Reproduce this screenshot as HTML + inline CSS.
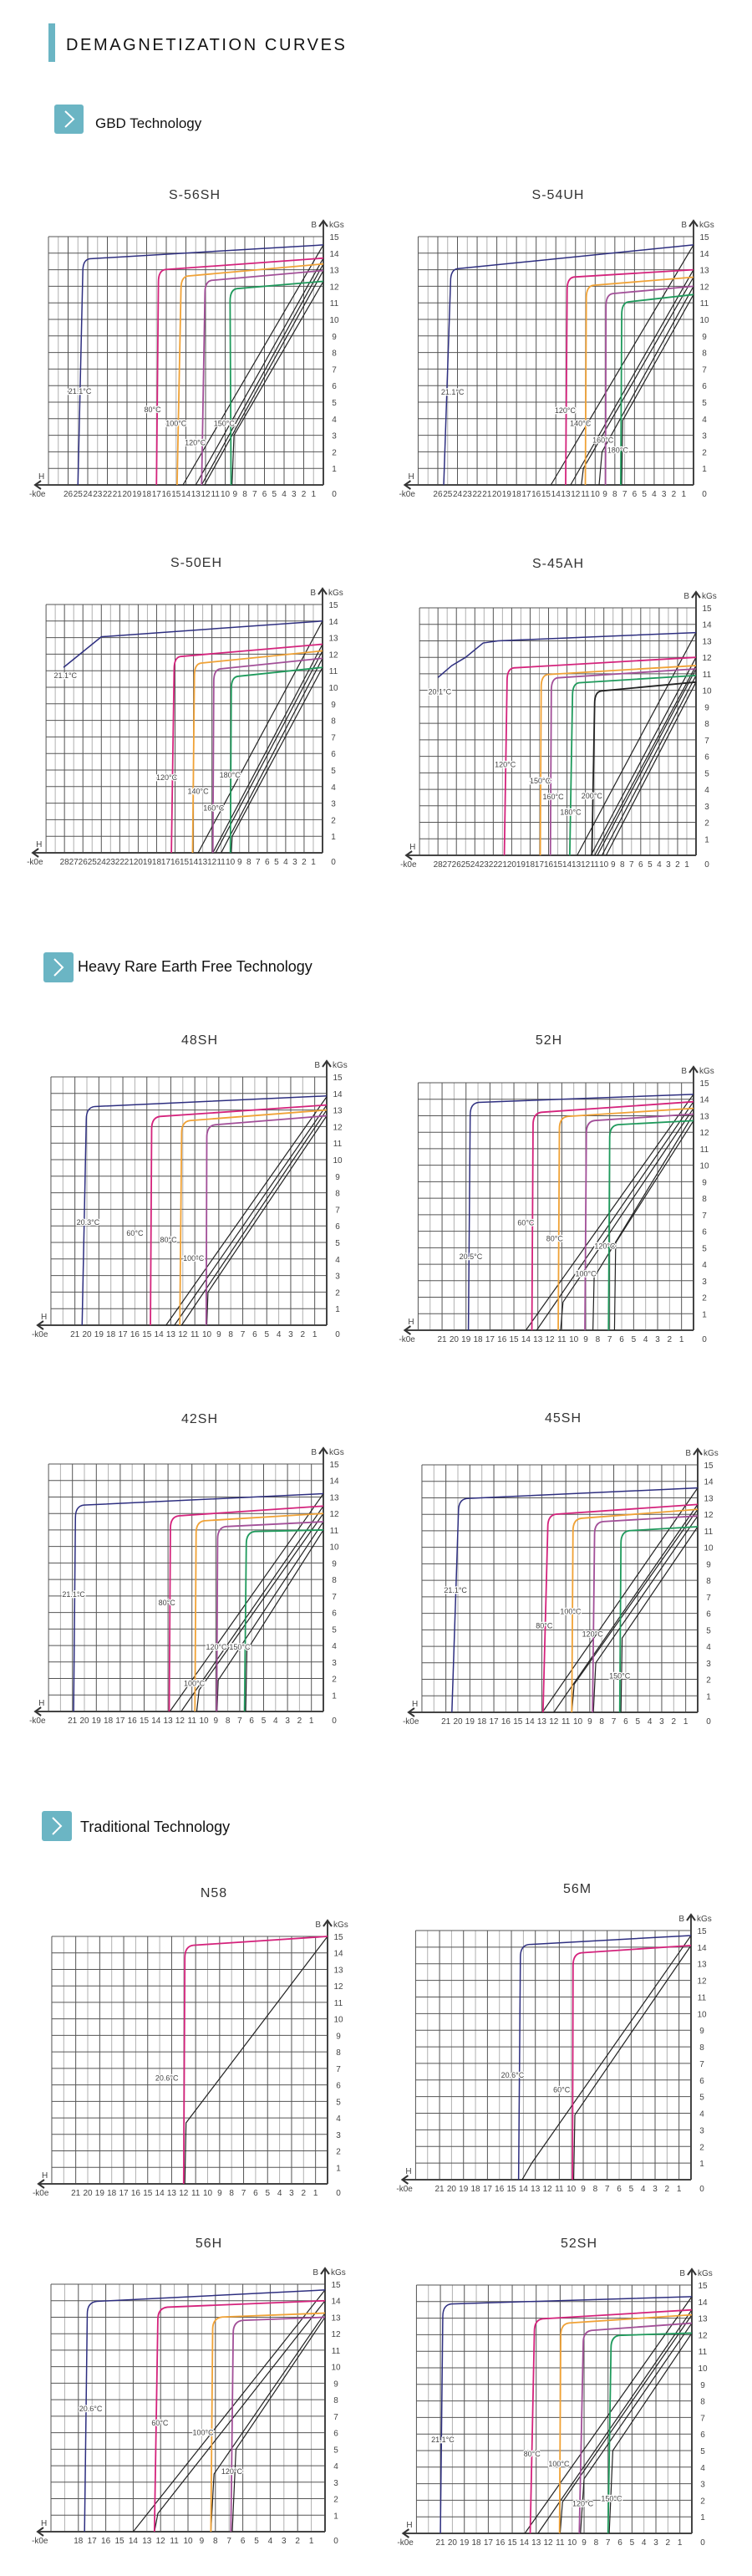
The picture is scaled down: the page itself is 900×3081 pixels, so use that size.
<!DOCTYPE html>
<html><head><meta charset="utf-8"><title>Demagnetization Curves</title>
<style>
html,body{margin:0;padding:0;background:#fff;}
svg{display:block;font-family:"Liberation Sans",sans-serif;}
</style></head>
<body>
<svg id="chart-root" xmlns="http://www.w3.org/2000/svg" width="900" height="3081" viewBox="0 0 900 3081">
  <rect x="58" y="28" width="8" height="46" fill="#6bb5c4"/>
  <text x="79" y="60" font-size="20" letter-spacing="2.6" fill="#111">DEMAGNETIZATION CURVES</text>

  <g>
    <rect x="65" y="125" width="35" height="35" rx="3" fill="#6bb5c4"/>
    <polyline points="78,133 88,142.5 78,152" fill="none" stroke="#fff" stroke-width="2"/>
    <text x="114" y="153" font-size="17" fill="#111">GBD Technology</text>
  </g>
  <g>
    <rect x="52" y="1139" width="36" height="36" rx="3" fill="#6bb5c4"/>
    <polyline points="65,1147 75,1157 65,1167" fill="none" stroke="#fff" stroke-width="2"/>
    <text x="93" y="1162" font-size="18" fill="#111">Heavy Rare Earth Free Technology</text>
  </g>
  <g>
    <rect x="50" y="2166" width="36" height="36" rx="3" fill="#6bb5c4"/>
    <polyline points="63,2174 73,2184 63,2194" fill="none" stroke="#fff" stroke-width="2"/>
    <text x="96" y="2191" font-size="18" fill="#111">Traditional Technology</text>
  </g>
</svg>
<script>
// ---------- data (H in kOe, B in kGs) ----------
// colored curves: [Hc at B=0, H at knee, B at knee, Br at H=0]
const curves_S56SH = [[25.0,24.5,13.6,14.5],[17.0,16.8,12.95,13.7],[14.9,14.5,12.56,13.35],[12.4,12.06,12.3,12.95],[9.4,9.5,11.8,12.3]];
const colors_S56SH = ['navy','mag','org','pur','grn'];
// recoil/load lines: [H at B=0, H at kink, B at kink (0 = straight), Br]
const recoil_S56SH = [[14.3,14.3,0,14.5],[13.0,13.0,0,13.7],[12.4,12.4,0,13.35],[12.1,12.1,0,12.95],[9.3,9.1,3.0,12.3]];
const labels_S56SH = [['21.1°C',24.8,5.65],['80°C',17.4,4.55],['100°C',15.0,3.7],['120°C',13.05,2.55],['150°C',10.1,3.7]];

const curves_S54UH = [[25.4,24.7,13.0,14.5],[13.0,12.85,12.5,13.0],[11.0,10.9,12.0,12.55],[8.95,8.9,11.5,12.0],[7.4,7.3,11.0,11.5]];
const colors_S54UH = ['navy','mag','org','pur','grn'];
const recoil_S54UH = [[14.5,14.5,0,14.5],[12.5,12.5,0,13.0],[11.4,11.2,1.0,12.55],[9.6,9.3,2.0,12.0],[7.3,7.2,3.9,11.5]];
const labels_S54UH = [['21.1°C',24.5,5.6],['120°C',13.05,4.5],['140°C',11.5,3.7],['160°C',9.2,2.7],['180°C',7.7,2.1]];

const navyPts_S50EH = [[28.1,11.2],[24.0,13.05],[0,14.0]];
const curves_S50EH = [[16.4,16.1,11.8,12.6],[14.1,13.9,11.4,12.2],[11.9,11.8,11.05,11.75],[10.0,9.9,10.6,11.2]];
const colors_S50EH = ['mag','org','pur','grn'];
const recoil_S50EH = [[13.5,13.5,0,14.0],[11.9,11.9,0,12.6],[11.6,11.6,0,12.2],[11.0,11.0,0,11.75],[9.9,9.8,1.0,11.2]];
const labels_S50EH = [['21.1°C',27.9,10.7],['120°C',16.9,4.55],['140°C',13.5,3.7],['160°C',11.8,2.7],['180°C',10.05,4.7]];

const navyPts_S45AH = [[28.0,10.78],[26.5,11.5],[25.0,12.0],[23.1,12.87],[21.5,13.0],[0,13.5]];
const curves_S45AH = [[20.8,20.5,11.3,12.0],[16.9,16.8,10.9,11.5],[15.8,15.7,10.7,11.3],[13.7,13.4,10.4,10.9],[11.3,11.0,9.9,10.5]];
const colors_S45AH = ['mag','org','pur','grn','blk'];
const recoil_S45AH = [[12.9,12.9,0,13.5],[11.4,11.4,0,12.0],[11.0,11.0,0,11.5],[10.7,10.7,0,11.3],[10.2,10.2,0,10.9],[9.75,9.75,0,10.5]];
const labels_S45AH = [['20.1°C',27.8,9.9],['120°C',20.7,5.5],['150°C',16.9,4.5],['160°C',15.5,3.55],['180°C',13.6,2.6],['200°C',11.3,3.6]];

const curves_48SH = [[20.4,20.05,13.15,13.85],[14.7,14.6,12.55,13.3],[12.25,12.1,12.3,13.0],[10.05,10.0,12.05,12.65]];
const colors_48SH = ['navy','mag','org','pur'];
const recoil_48SH = [[13.4,13.4,0,13.8],[12.7,12.7,0,13.3],[12.1,12.1,0,13.0],[10.0,9.9,2.0,12.65]];
const labels_48SH = [['20.3°C',19.9,6.2],['60°C',16.0,5.55],['80°C',13.2,5.15],['100°C',11.1,4.05]];

const curves_52H = [[18.8,18.65,13.75,14.3],[13.5,13.4,13.15,13.85],[11.3,11.2,12.9,13.45],[9.07,8.95,12.65,13.1],[7.1,7.0,12.4,12.7]];
const colors_52H = ['navy','mag','org','pur','grn'];
const recoil_52H = [[14.0,14.0,0,14.3],[13.1,13.1,0,13.85],[11.1,10.9,1.7,13.45],[8.4,8.3,3.2,13.1],[6.6,6.5,5.3,12.7]];
const labels_52H = [['20.5°C',18.6,4.45],['60°C',14.0,6.5],['80°C',11.6,5.55],['100°C',9.0,3.43],['120°C',7.4,5.1]];

const curves_42SH = [[20.9,20.75,12.45,13.2],[12.9,12.8,11.8,12.45],[10.75,10.65,11.5,12.0],[8.93,8.85,11.15,11.5],[6.6,6.45,10.85,11.0]];
const colors_42SH = ['navy','mag','org','pur','grn'];
const recoil_42SH = [[12.85,12.85,0,13.2],[11.9,11.9,0,12.45],[10.6,10.4,1.3,12.0],[8.9,8.8,1.9,11.5],[6.5,6.4,3.7,11.0]];
const labels_42SH = [['21.1°C',20.9,7.1],['80°C',13.1,6.6],['100°C',10.8,1.7],['120°C',8.95,3.9],['150°C',7.0,3.9]];

const curves_45SH = [[20.5,19.95,12.9,13.6],[12.9,12.5,11.95,12.6],[10.5,10.4,11.7,12.3],[8.77,8.6,11.5,11.9],[6.5,6.4,10.95,11.25]];
const colors_45SH = ['navy','mag','org','pur','grn'];
const recoil_45SH = [[12.95,12.95,0,13.6],[12.0,12.0,0,12.6],[10.5,10.3,1.7,12.3],[8.7,8.5,3.0,11.9],[6.4,6.3,4.5,11.25]];
const labels_45SH = [['21.1°C',20.2,7.4],['80°C',12.8,5.25],['100°C',10.6,6.1],['120°C',8.77,4.75],['150°C',6.5,2.2]];

const curves_N58 = [[12.0,11.9,14.4,15.0]];
const colors_N58 = ['mag'];
const recoil_N58 = [[11.9,11.8,3.7,15.0]];
const labels_N58 = [['20.6°C',13.4,6.4]];

const curves_56M = [[14.4,14.25,14.1,14.7],[9.9,9.85,13.6,14.1]];
const colors_56M = ['navy','mag'];
const recoil_56M = [[14.1,13.3,1.0,14.7],[9.8,9.7,3.9,14.1]];
const labels_56M = [['20.6°C',14.9,6.3],['60°C',10.8,5.4]];

const curves_56H = [[17.55,17.35,13.9,14.65],[12.45,12.2,13.55,14.0],[8.33,8.2,12.95,13.25],[6.87,6.7,12.75,13.0]];
const colors_56H = ['navy','mag','org','pur'];
const recoil_56H = [[14.0,14.0,0,14.65],[12.45,12.2,1.1,14.0],[8.33,8.1,3.5,13.25],[6.77,6.5,5.0,13.0]];
const labels_56H = [['20.6°C',17.1,7.45],['60°C',12.05,6.6],['100°C',8.9,6.0],['120°C',6.8,3.65]];

const curves_52SH = [[21.0,20.8,13.8,14.3],[13.5,13.15,12.9,13.5],[11.05,10.95,12.65,13.2],[9.4,9.07,12.2,12.7],[7.0,6.75,11.9,12.1]];
const colors_52SH = ['navy','mag','org','pur','grn'];
const recoil_52SH = [[13.95,13.95,0,14.3],[12.85,12.85,0,13.5],[11.0,10.8,1.9,13.2],[9.3,9.0,3.3,12.7],[6.9,6.6,5.0,12.1]];
const labels_52SH = [['21.1°C',20.8,5.65],['80°C',13.35,4.8],['100°C',11.1,4.2],['120°C',9.1,1.8],['150°C',6.7,2.1]];

const chartNames = ['S-56SH','S-54UH','S-50EH','S-45AH','48SH','52H','42SH','45SH','N58','56M','56H','52SH'];
const xTickMax = [26,26,28,28,21,21,21,21,21,21,18,21];
const yTicks = [1,2,3,4,5,6,7,8,9,10,11,12,13,14,15];

// ---------- layout ----------
const layout = [
 {axis:387,top:283,bottom:580,k:11.75,cols:28,tx:233,ty:238},
 {axis:830,top:283,bottom:580,k:11.77,cols:28,tx:668,ty:238},
 {axis:386,top:723,bottom:1020,k:11.03,cols:30,tx:235,ty:678},
 {axis:833,top:727,bottom:1023,k:11.03,cols:30,tx:668,ty:679},
 {axis:391,top:1288,bottom:1585,k:14.35,cols:23,tx:239,ty:1249},
 {axis:830,top:1295,bottom:1591,k:14.33,cols:23,tx:657,ty:1249},
 {axis:387,top:1751,bottom:2047,k:14.3,cols:23,tx:239,ty:1702},
 {axis:835,top:1752,bottom:2048,k:14.35,cols:23,tx:674,ty:1701},
 {axis:392,top:2316,bottom:2612,k:14.35,cols:23,tx:256,ty:2269},
 {axis:827,top:2309,bottom:2607,k:14.33,cols:23,tx:691,ty:2264},
 {axis:389,top:2732,bottom:3028,k:16.4,cols:20,tx:250,ty:2688},
 {axis:828,top:2733,bottom:3030,k:14.33,cols:23,tx:693,ty:2688}
];
const palette = {navy:'#2e2f80',mag:'#d4237c',org:'#f0a236',pur:'#a24f98',grn:'#1f9a5c',blk:'#222'};

const NS = 'http://www.w3.org/2000/svg';
const root = document.getElementById('chart-root');
function mk(tag, attrs, parent){
  const e = document.createElementNS(NS, tag);
  for (const k in attrs) e.setAttribute(k, attrs[k]);
  parent.appendChild(e);
  return e;
}

function drawChart(i, curves, colors, recoil, labels, navyPts){
  const c = layout[i];
  const slug = chartNames[i].toLowerCase().replace(/[^a-z0-9]+/g,'-');
  const g = mk('g', {}, root);
  
  
  const x = h => c.axis - h * c.k;
  const y = b => c.bottom - b * (c.bottom - c.top) / 15;
  const left = x(c.cols);

  const title = mk('text', {x:c.tx, y:c.ty, 'font-size':16, 'text-anchor':'middle', fill:'#333', 'letter-spacing':1}, g);
  title.textContent = chartNames[i];
  
  

  for (let j = 0; j < c.cols; j++) {
    const v = mk('line', {x1:x(c.cols - j), x2:x(c.cols - j), y1:c.top, y2:c.bottom, stroke:(j % 2 ? '#b0b0b0' : '#555'), 'stroke-width':1}, g);
    
    
  }
  for (let b = 1; b <= 15; b++) {
    const hl = mk('line', {x1:left, x2:c.axis, y1:y(b), y2:y(b), stroke:'#555', 'stroke-width':1}, g);
    
    
  }

  const ya = mk('line', {x1:c.axis, x2:c.axis, y1:c.bottom, y2:c.top - 19, stroke:'#444', 'stroke-width':2}, g);
  
  
  const yarr = mk('polyline', {points:`${c.axis-5},${c.top-12} ${c.axis},${c.top-19} ${c.axis+5},${c.top-12}`, fill:'none', stroke:'#333', 'stroke-width':2}, g);
  
  
  const bl = mk('text', {x:c.axis-8, y:c.top-11, 'font-size':10, 'text-anchor':'end', fill:'#444'}, g);
  bl.textContent = 'B';
  
  
  const ku = mk('text', {x:c.axis+7, y:c.top-11, 'font-size':10, fill:'#444'}, g);
  ku.textContent = 'kGs';
  
  

  const xa = mk('line', {x1:c.axis, x2:left-16, y1:c.bottom, y2:c.bottom, stroke:'#444', 'stroke-width':2}, g);
  
  
  const xarr = mk('polyline', {points:`${left-9},${c.bottom-5} ${left-16},${c.bottom} ${left-9},${c.bottom+5}`, fill:'none', stroke:'#333', 'stroke-width':2}, g);
  
  
  const hl2 = mk('text', {x:left-12, y:c.bottom-7, 'font-size':10, fill:'#444'}, g);
  hl2.textContent = 'H';
  
  
  const ku2 = mk('text', {x:left-23, y:c.bottom+14, 'font-size':10, fill:'#444'}, g);
  ku2.textContent = '-k0e';
  
  

  for (const b of yTicks) {
    const t = mk('text', {x:c.axis+13, y:y(b)+4, 'font-size':10, 'text-anchor':'middle', fill:'#444'}, g);
    t.textContent = b;
    
    
  }
  const z = mk('text', {x:c.axis+13, y:c.bottom+14, 'font-size':10, 'text-anchor':'middle', fill:'#444'}, g);
  z.textContent = '0';
  
  
  for (let h = 1; h <= xTickMax[i]; h++) {
    const t = mk('text', {x:x(h), y:c.bottom+14, 'font-size':10, 'text-anchor':'middle', fill:'#444'}, g);
    t.textContent = h;
    
    
  }

  for (const r of recoil) {
    let d = `M${x(r[0])},${y(0)}`;
    if (r[2] > 0) d += ` L${x(r[1])},${y(r[2])}`;
    d += ` L${x(0)},${y(r[3])}`;
    const p = mk('path', {d:d, fill:'none', stroke:palette.blk, 'stroke-width':1.2}, g);
    
    
  }

  if (navyPts) {
    const d = navyPts.map((p, k) => (k ? 'L' : 'M') + x(p[0]) + ',' + y(p[1])).join(' ');
    const p = mk('path', {d:d, fill:'none', stroke:palette.navy, 'stroke-width':1.5}, g);
    
    
  }
  curves.forEach((cv, k) => {
    const [hc, hk, bk, br] = cv;
    const d = `M${x(hc)},${y(0)} L${x(hk)},${y(bk-0.7)} Q${x(hk)},${y(bk)} ${x(hk-0.7)},${y(bk+0.06)} L${x(0)},${y(br)}`;
    const p = mk('path', {d:d, fill:'none', stroke:palette[colors[k]], 'stroke-width':(colors[k]==='navy'?1.5:1.8)}, g);
    
    
  });

  for (const l of labels) {
    const t = mk('text', {x:x(l[1]), y:y(l[2])+3, 'font-size':9, 'text-anchor':'middle', fill:'#444', stroke:'#fff', 'stroke-width':2.5, 'paint-order':'stroke'}, g);
    t.textContent = l[0];
    
    
  }
}

drawChart(0, curves_S56SH, colors_S56SH, recoil_S56SH, labels_S56SH);
drawChart(1, curves_S54UH, colors_S54UH, recoil_S54UH, labels_S54UH);
drawChart(2, curves_S50EH, colors_S50EH, recoil_S50EH, labels_S50EH, navyPts_S50EH);
drawChart(3, curves_S45AH, colors_S45AH, recoil_S45AH, labels_S45AH, navyPts_S45AH);
drawChart(4, curves_48SH, colors_48SH, recoil_48SH, labels_48SH);
drawChart(5, curves_52H, colors_52H, recoil_52H, labels_52H);
drawChart(6, curves_42SH, colors_42SH, recoil_42SH, labels_42SH);
drawChart(7, curves_45SH, colors_45SH, recoil_45SH, labels_45SH);
drawChart(8, curves_N58, colors_N58, recoil_N58, labels_N58);
drawChart(9, curves_56M, colors_56M, recoil_56M, labels_56M);
drawChart(10, curves_56H, colors_56H, recoil_56H, labels_56H);
drawChart(11, curves_52SH, colors_52SH, recoil_52SH, labels_52SH);
</script>
</body></html>
